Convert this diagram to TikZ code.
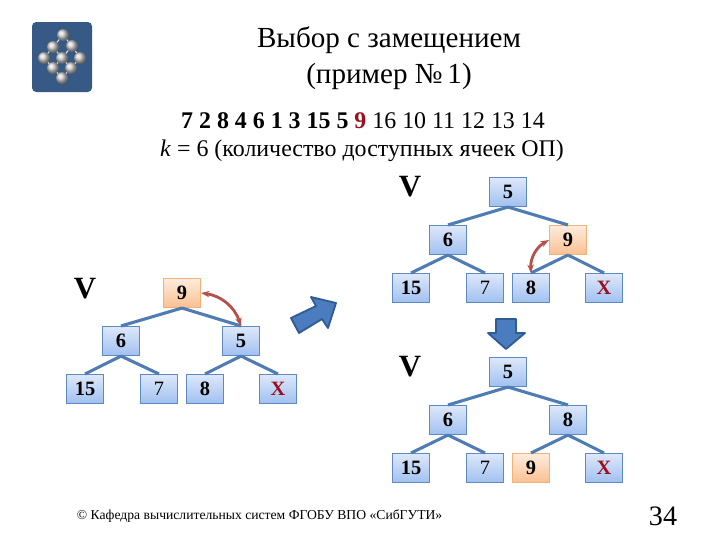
\documentclass[tikz,border=0pt]{standalone}
\usepackage{fontspec}
\setmainfont{Liberation Serif}
\usetikzlibrary{arrows.meta}
\definecolor{boxline}{HTML}{5F8AC0}
\definecolor{edgeblue}{HTML}{4F7DB3}
\definecolor{hotline}{HTML}{F0B27A}
\definecolor{swapred}{HTML}{B5504C}
\definecolor{markred}{HTML}{9A0F1E}
\definecolor{logoblue}{HTML}{365A85}
\definecolor{fatblue}{HTML}{4A7CBF}
\definecolor{fatline}{HTML}{2F5C94}
\definecolor{boxtop}{HTML}{DEE8FA}
\definecolor{boxbot}{HTML}{A0C0F0}
\definecolor{hottop}{HTML}{FDECDE}
\definecolor{hotbot}{HTML}{FAC090}
\tikzset{
    treebox/.style={draw=boxline, line width=0.6pt, top color=boxtop, bottom color=boxbot,
        minimum width=0.93cm, minimum height=0.73cm, inner sep=0pt, font=\fontsize{14.5}{16}\selectfont\bfseries},
    hotbox/.style={treebox, draw=hotline, top color=hottop, bottom color=hotbot},
    plainnum/.style={font=\fontsize{14.5}{16}\selectfont},
    markx/.style={text=markred},
    edge/.style={draw=edgeblue, line width=2.2pt},
    swap/.style={draw=swapred, line width=2pt, {Stealth[length=6pt]}-{Stealth[length=6pt]}},
    fatarrow/.style={draw=fatline, line width=1.3pt, fill=fatblue, line join=round},
    vlabel/.style={font=\fontsize{22}{24}\selectfont\bfseries}
}
\begin{document}
\begin{tikzpicture}[x=0.025cm, y=-0.025cm]
    \useasboundingbox (0,0) rectangle (720,540);

    % логотип
    \fill[logoblue, rounded corners=3pt] (32,22) rectangle (92,92);
    \draw[gray!30, line width=0.8pt] (63,35) -- (53,47) -- (44,58) -- (53,68) -- (62,78) -- (71,68) -- (80,58) -- (72,46) -- (63,35);
    \draw[gray!30, line width=0.8pt] (53,47) -- (62,58) -- (71,68) (72,46) -- (62,58) -- (53,68);
    \foreach \x/\y in {63/35, 53/47, 72/46, 44/58, 62/58, 80/58, 53/68, 71/68, 62/78} {
        \shade[ball color=gray!35] (\x,\y) circle (6);
    }

    % заголовок
    \node[font=\fontsize{20.7}{24}\selectfont] (title1) at (389,40) {Выбор с замещением};
    \node[font=\fontsize{20.7}{24}\selectfont] (title2) at (389,76) {(пример №\,1)};
    \node[font=\fontsize{17}{20}\selectfont] (seq) at (363,121) {\textbf{7 2 8 4 6 1 3 15 5 \textcolor{markred}{9}} 16 10 11 12 13 14};
    \node[font=\fontsize{17}{20}\selectfont] (kline) at (362,151) {\textit{k} = 6 (количество доступных ячеек ОП)};

    % левое дерево
    \node[vlabel] (lv) at (85,289) {V};
    \node[hotbox] (lr) at (182,293) {9};
    \node[treebox] (la) at (121,341) {6};
    \node[treebox] (lb) at (241,341) {5};
    \node[treebox] (lc) at (85,389) {15};
    \node[treebox, plainnum] (ld) at (159,389) {7};
    \node[treebox] (le) at (205,389) {8};
    \node[treebox, markx] (lf) at (278,389) {X};

    % правое верхнее дерево
    \node[vlabel] (uv) at (410,187) {V};
    \node[treebox] (ur) at (508,192) {5};
    \node[treebox] (ua) at (448,240) {6};
    \node[hotbox] (ub) at (568,240) {9};
    \node[treebox] (uc) at (411,288) {15};
    \node[treebox, plainnum] (ud) at (485,288) {7};
    \node[treebox] (ue) at (531,288) {8};
    \node[treebox, markx] (uf) at (604,288) {X};

    % правое нижнее дерево
    \node[vlabel] (dv) at (410,367) {V};
    \node[treebox] (dr) at (508,372) {5};
    \node[treebox] (da) at (448,420) {6};
    \node[treebox] (db) at (568,420) {8};
    \node[treebox] (dc) at (411,468) {15};
    \node[treebox, plainnum] (dd) at (485,468) {7};
    \node[hotbox] (de) at (531,468) {9};
    \node[treebox, markx] (df) at (604,468) {X};

    % связи
    \foreach \t in {l, u, d} {
        \foreach \p/\c in {r/a, r/b, a/c, a/d, b/e, b/f} {
            \draw[edge] (\t\p.south) -- (\t\c.north);
        }
    }

    % обмены
    \draw[swap] (lr.east) to[bend left=32] (lb.north);
    \draw[swap] (ub.west) to[bend right=32] (ue.north);

    % большие стрелки
    \draw[fatarrow] (291,318) -- (299,333) -- (322,319) -- (328,328) -- (336,303) -- (311,297) -- (316,306) -- cycle;
    \draw[fatarrow] (496,319) -- (516,319) -- (516,333) -- (525,333) -- (506,349) -- (488,333) -- (496,333) -- cycle;

    % подвал
    \node[font=\fontsize{9.7}{12}\selectfont, anchor=west] (foot) at (72,516) {© Кафедра вычислительных систем ФГОБУ ВПО «СибГУТИ»};
    \node[font=\fontsize{20}{24}\selectfont] (page) at (663,516) {34};
\end{tikzpicture}
\end{document}
